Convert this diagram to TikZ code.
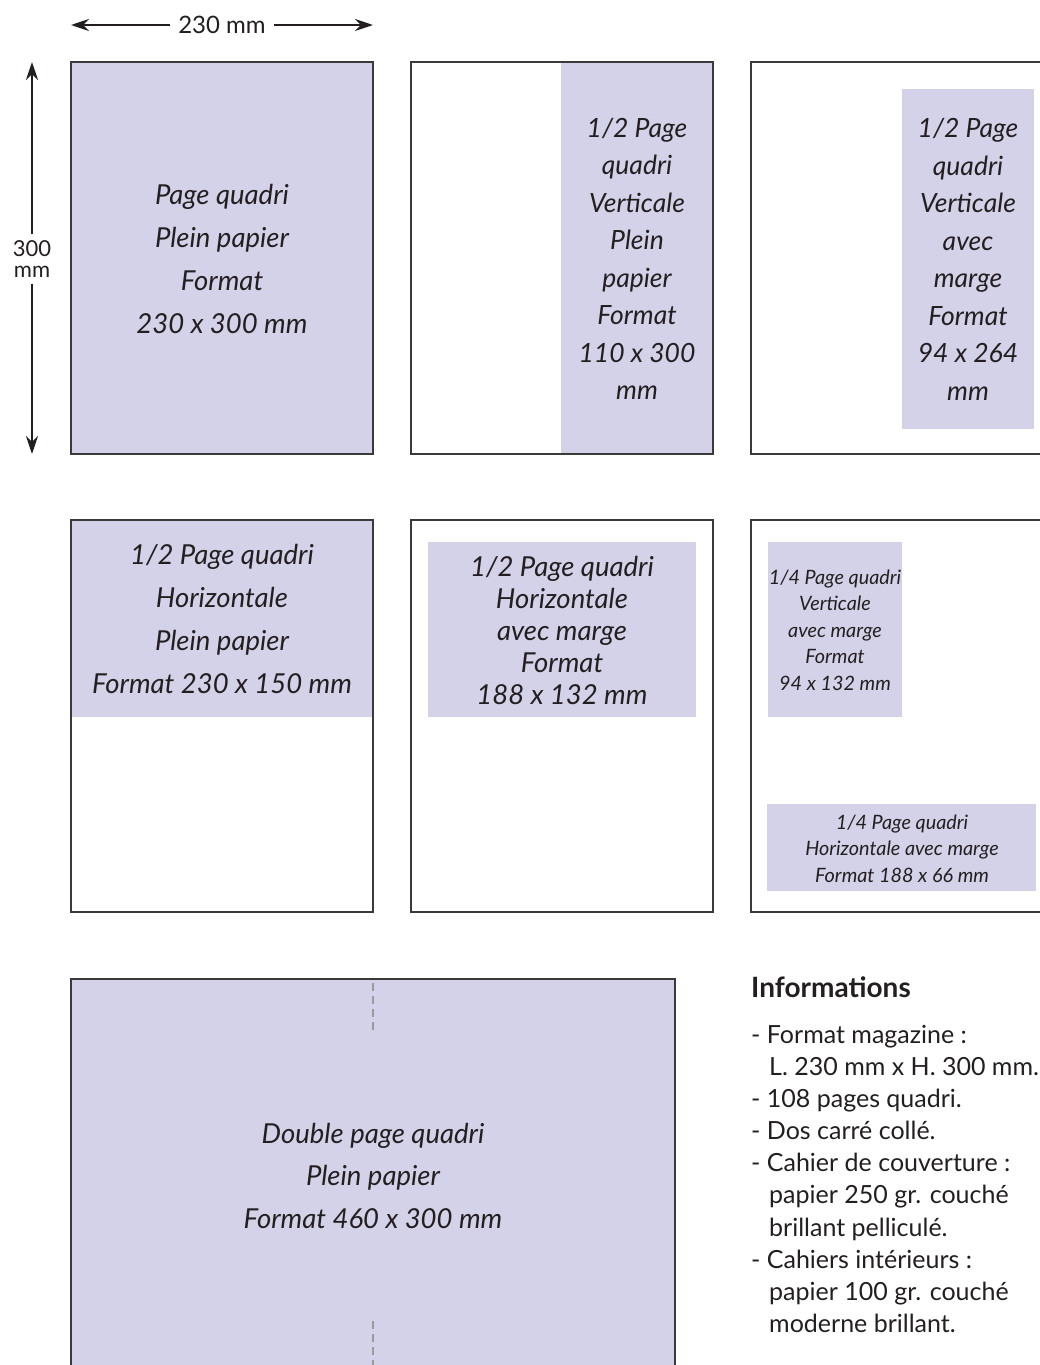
\documentclass[tikz,border=0pt]{standalone}
\usepackage{fontspec}
\setmainfont{Lato}
\usetikzlibrary{arrows.meta}
\definecolor{lav}{HTML}{D3D2E8}
\definecolor{ink}{HTML}{231F20}
\definecolor{framec}{HTML}{3A3A3A}
\definecolor{foldc}{HTML}{9A9A9A}
\begin{document}
\begin{tikzpicture}[x=1pt,y=-1pt,
  pageframe/.style={draw=framec, line width=1.2pt, inner sep=0pt, outer sep=0pt, minimum width=302pt, minimum height=392pt, anchor=north west},
  area/.style={fill=lav, inner sep=0pt, outer sep=0pt, anchor=north west},
  bigtxt/.style={font=\fontsize{27.5}{43}\selectfont\itshape, text=ink, align=center, inner sep=0pt},
  midtxt/.style={font=\fontsize{26.5}{37.5}\selectfont\itshape, text=ink, align=center, inner sep=0pt},
  smalltxt/.style={font=\fontsize{19.8}{26.5}\selectfont\itshape, text=ink, align=center, inner sep=0pt},
  dimtxt/.style={font=\fontsize{24}{21}\selectfont, text=ink, align=center, inner sep=0pt},
  infotxt/.style={font=\fontsize{25}{32.3}\selectfont, text=ink, inner sep=0pt, anchor=base west},
  dimarrow/.style={-{Stealth[length=18pt,width=12pt]}, line width=2pt, draw=ink},
  fold/.style={draw=foldc, line width=1.6pt, dash pattern=on 8pt off 5pt}
]
\clip (0,0) rectangle (1040,1365);
% filled areas
\node[area, minimum width=302pt, minimum height=392pt] (a1) at (71,62) {};
\node[area, minimum width=152pt, minimum height=392pt] (a2) at (561,62) {};
\node[area, minimum width=132pt, minimum height=340pt] (a3) at (902,89) {};
\node[area, minimum width=302pt, minimum height=197pt] (a4) at (71,520) {};
\node[area, minimum width=268pt, minimum height=175pt] (a5) at (428,542) {};
\node[area, minimum width=134pt, minimum height=175pt] (a6) at (768,542) {};
\node[area, minimum width=269pt, minimum height=87pt] (a7) at (767,804) {};
\node[area, minimum width=604pt, minimum height=420pt] (a8) at (71,979) {};
% page frames
\node[pageframe] (p1) at (71,62) {};
\node[pageframe] (p2) at (411,62) {};
\node[pageframe] (p3) at (751,62) {};
\node[pageframe] (p4) at (71,520) {};
\node[pageframe] (p5) at (411,520) {};
\node[pageframe] (p6) at (751,520) {};
\node[pageframe, minimum width=604pt, minimum height=420pt] (p7) at (71,979) {};
% fold line
\coordinate (f1) at (373,983);
\coordinate (f2) at (373,1033);
\coordinate (f3) at (373,1321);
\coordinate (f4) at (373,1372);
\draw[fold] (f1) -- (f2);
\draw[fold] (f3) -- (f4);
% dimensions
\node[dimtxt] (w) at (222,25) {230 mm};
\coordinate (wl) at (71,25);
\coordinate (wr) at (373,25);
\draw[dimarrow] (w.west) ++(-8,0) -- (wl);
\draw[dimarrow] (w.east) ++(8,0) -- (wr);
\node[dimtxt, font=\fontsize{22}{21}\selectfont] (h) at (32,259) {300\\mm};
\coordinate (ht) at (32,62);
\coordinate (hb) at (32,454);
\draw[dimarrow] (h.north) ++(0,-6) -- (ht);
\draw[dimarrow] (h.south) ++(0,6) -- (hb);
% texts
\node[bigtxt] (t1) at (222,259) {Page quadri\\Plein papier\\Format\\230 x 300 mm};
\node[midtxt] (t2) at (637,259) {1/2 Page\\quadri\\Verticale\\Plein\\papier\\Format\\110 x 300\\mm};
\node[midtxt] (t3) at (968,259.5) {1/2 Page\\quadri\\Verticale\\avec\\marge\\Format\\94 x 264\\mm};
\node[bigtxt] (t4) at (222,619) {1/2 Page quadri\\Horizontale\\Plein papier\\Format 230 x 150 mm};
\node[bigtxt, font=\fontsize{27.5}{32}\selectfont\itshape] (t5) at (562,630) {1/2 Page quadri\\Horizontale\\avec marge\\Format\\188 x 132 mm};
\node[smalltxt] (t6) at (835,630) {1/4 Page quadri\\Verticale\\avec marge\\Format\\94 x 132 mm};
\node[smalltxt] (t7) at (902,848.5) {1/4 Page quadri\\Horizontale avec marge\\Format 188 x 66 mm};
\node[bigtxt, font=\fontsize{27.5}{42.5}\selectfont\itshape] (t8) at (373,1175.5) {Double page quadri\\Plein papier\\Format 460 x 300 mm};
% informations
\node[infotxt, font=\fontsize{28}{30}\selectfont\bfseries] (i0) at (751,997) {Informations};
\node[infotxt] (i1) at (751,1043) {- Format magazine :};
\node[infotxt] (i2) at (769,1075) {L. 230 mm x H. 300 mm.};
\node[infotxt] (i3) at (751,1107) {- 108 pages quadri.};
\node[infotxt] (i4) at (751,1139) {- Dos carré collé.};
\node[infotxt] (i5) at (751,1171) {- Cahier de couverture :};
\node[infotxt] (i6) at (769,1203) {papier 250 gr. couché};
\node[infotxt] (i7) at (769,1236) {brillant pelliculé.};
\node[infotxt] (i8) at (751,1268) {- Cahiers intérieurs :};
\node[infotxt] (i9) at (769,1300) {papier 100 gr. couché};
\node[infotxt] (i10) at (769,1332) {moderne brillant.};
\end{tikzpicture}
\end{document}
